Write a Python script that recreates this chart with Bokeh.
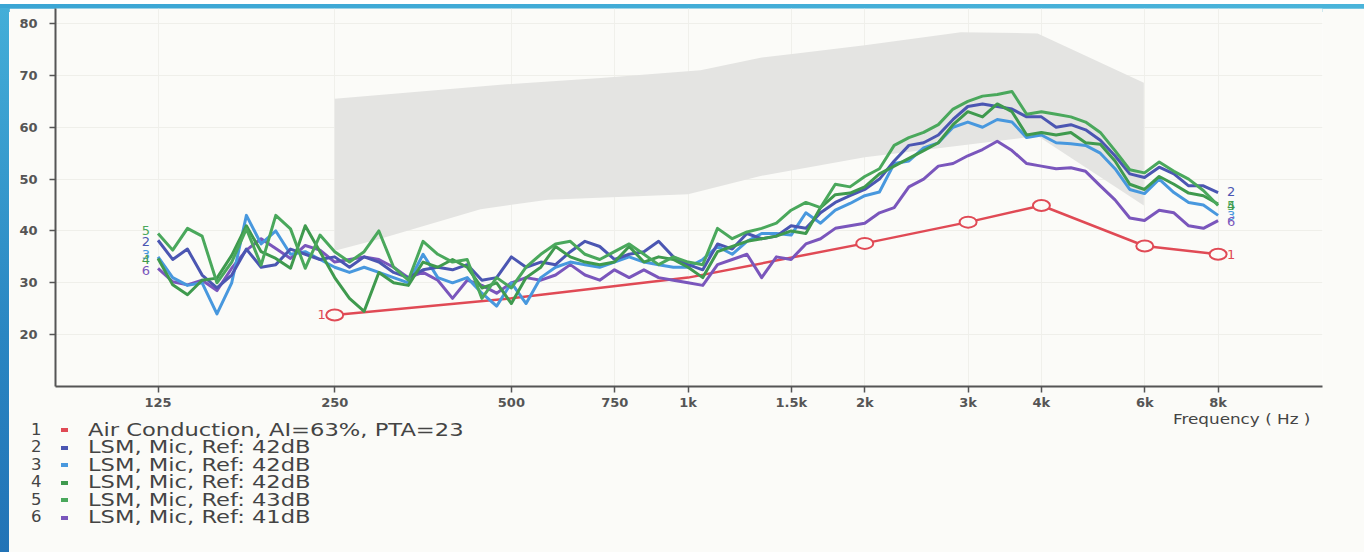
from bokeh.plotting import figure
from bokeh.models import Range1d, FixedTicker, Label, Div
from bokeh.layouts import column, row
from bokeh.embed import file_html
from bokeh.resources import INLINE

# ---------------- data ----------------
FREQ = [125, 132.4, 140.3, 148.6, 157.5, 166.9, 176.8, 187.3, 198.4, 210.2, 222.7, 236.0,
        250, 264.9, 280.6, 297.3, 315.0, 333.7, 353.6, 374.6, 396.9, 420.4, 445.4, 471.9,
        500, 529.7, 561.2, 594.6, 630.0, 667.4, 707.1, 749.2, 793.7, 840.9, 890.9, 943.9,
        1000, 1059.5, 1122.5, 1189.2, 1259.9, 1334.8, 1414.2, 1498.3, 1587.4, 1681.8, 1781.8, 1887.7,
        2000, 2118.9, 2244.9, 2378.4, 2519.8, 2669.6, 2828.4, 2996.6, 3174.8, 3363.6, 3563.6, 3775.5,
        4000, 4237.8, 4489.8, 4756.8, 5039.7, 5339.2, 5656.9, 5993.2, 6349.6, 6727.2, 7127.2, 7551.0,
        8000]

LSM2 = [38.2, 34.5, 36.5, 31.5, 29, 31.5, 36.5, 33, 33.5, 36.5, 35.5, 34.5, 35,
        33, 35, 34, 32, 31, 32.5,
        33, 32.5, 33.5, 30.5, 31, 35, 33, 34, 33.5, 36, 38, 37, 34.5, 35.5, 36, 38, 35, 33.5,
        32.5, 37.5, 36.5, 39.5, 38.5, 39, 41, 40.5, 43.5, 45.5, 46.8, 48, 50, 53.5, 56.5, 57, 58.5, 61.5,
        64, 64.5, 64, 63.5, 62, 62, 60, 60.5, 59.5, 57.5, 54.5, 51, 50.3, 52.3, 51, 48.7, 48.7, 47.4]

LSM3 = [35, 31, 29.5, 30, 24, 30, 43, 37.5, 40, 35.5, 36, 34.5, 33,
        32, 33, 32, 31, 30, 35.5,
        31, 30, 31, 28, 25.5, 30, 26, 31, 33, 34, 33.5, 33, 34, 35, 34, 33.5, 33, 33,
        34.5, 37, 35.5, 38, 39.5, 39.5, 39.2, 43.5, 41.5, 44, 45.3, 46.8, 47.5, 53, 53.5, 56, 57, 60,
        61, 60, 61.5, 61, 58, 58.5, 57, 56.8, 56.5, 55, 52, 48, 47.2, 50, 47.4, 45.5, 45, 43]

LSM4 = [34.7, 29.6, 27.7, 30.5, 30.9, 35.3, 41, 36, 34.7, 32.8, 41, 36, 31,
        27, 24.5, 32, 30, 29.5, 34,
        33, 34.5, 33, 29, 30, 26, 31, 33, 37, 35, 34, 33.5, 34, 37, 34, 35, 34.5, 33,
        31, 36, 37, 38, 38.5, 39, 40, 39.5, 44.5, 47, 47.3, 48.5, 51, 52.5, 54, 55.5, 57, 60.5,
        63, 62, 64.5, 63, 58.5, 59, 58.5, 59, 57, 56.7, 53.5, 49, 48, 50.5, 49, 47.3, 46.8, 45.2]

LSM5 = [39.5, 36.3, 40.5, 39, 30, 34, 40.4, 33.4, 43, 40.4, 32.8, 39.2, 36,
        34, 36, 40, 33, 30.5, 38,
        35.5, 34, 34.5, 27, 31, 29, 33, 35.5, 37.5, 38, 35.5, 34.5, 36, 37.5, 35.5, 33.5, 35, 34,
        33.5, 40.5, 38.5, 39.8, 40.5, 41.5, 44, 45.5, 44.5, 49, 48.5, 50.5, 52, 56.5, 58, 59, 60.5, 63.5,
        65, 66, 66.3, 66.9, 62.5, 63, 62.5, 62, 61, 59, 55.5, 51.8, 51.2, 53.3, 51.5, 50, 47.8, 44.9]

LSM6 = [32.8, 30.2, 29.6, 30.5, 28.5, 32.8, 36.3, 38.5, 36.6, 34.7, 37.2, 36.3, 34,
        34.5, 35, 34.5, 33, 31, 32,
        30.5, 27, 30.5, 29.5, 28, 30, 31, 30.5, 31.5, 33.5, 31.5, 30.5, 32.5, 31, 32.5, 31, 30.5, 30,
        29.5, 33.5, 34.5, 35.5, 31, 35, 34.5, 37.5, 38.5, 40.5, 41, 41.5, 43.5, 44.5, 48.5, 50, 52.5, 53,
        54.5, 55.7, 57.3, 55.5, 53, 52.5, 52, 52.2, 51.5, 48.7, 46, 42.5, 42, 44, 43.5, 41, 40.5, 42]

AC_FREQ = [250, 500, 1000, 2000, 3000, 4000, 6000, 8000]
AC_DB = [23.8, 27, 31, 37.6, 41.7, 44.9, 37.1, 35.5]

BAND_HI_F = [250, 479, 710, 1050, 1329, 1555, 2000, 2916, 3941, 5978]
BAND_HI = [65.5, 68.2, 69.5, 71.0, 73.4, 74.3, 75.8, 78.3, 78.1, 68.6]
BAND_LO_F = [5978, 3941, 2000, 1329, 1000, 577, 443, 299, 250]
BAND_LO = [44.9, 58.3, 54.2, 50.6, 47.1, 46.0, 44.2, 38.5, 36.2]

XTICKS = [125, 250, 500, 750, 1000, 1500, 2000, 3000, 4000, 6000, 8000]
XTICK_LABELS = ["125", "250", "500", "750", "1k", "1.5k", "2k", "3k", "4k", "6k", "8k"]
YTICKS = [20, 30, 40, 50, 60, 70, 80]
X_CAPTION = "Frequency ( Hz )"

LEGEND_NUMS = ["1", "2", "3", "4", "5", "6"]
LEGEND_TEXTS = ["Air Conduction, AI=63%, PTA=23",
                "LSM, Mic, Ref: 42dB",
                "LSM, Mic, Ref: 42dB",
                "LSM, Mic, Ref: 42dB",
                "LSM, Mic, Ref: 43dB",
                "LSM, Mic, Ref: 41dB"]

# ---------------- style ----------------
BG = "#fbfbf8"
RED = "#e04a55"
C2 = "#4b56b2"
C3 = "#4898de"
C4 = "#3f9a4e"
C5 = "#4aa85c"
C6 = "#7a56bc"
COLORS = [RED, C2, C3, C4, C5, C6]
AXC = "#555555"
FONT = "DejaVu Sans"

PAGE_W, PAGE_H = 1364, 552
TOP_BAR, LEFT_BAR = 8, 9
W = PAGE_W - LEFT_BAR          # 1355
FIG_H = 404
DIV_H = PAGE_H - TOP_BAR - FIG_H   # 140

p = figure(width=W, height=FIG_H, x_axis_type="log",
           x_range=Range1d(83.6, 12050), y_range=Range1d(10, 82.9),
           output_backend="svg", toolbar_location=None,
           min_border_left=46, min_border_right=42, min_border_top=0, min_border_bottom=23,
           background_fill_color=BG, border_fill_color=BG, outline_line_color=None, margin=0)

# axes
for ax in (p.xaxis, p.yaxis):
    ax.axis_line_color = AXC
    ax.axis_line_width = 2
    ax.major_tick_line_color = AXC
    ax.major_tick_line_width = 1.5
    ax.major_tick_in = 0
    ax.major_tick_out = 6
    ax.minor_tick_line_color = None
    ax.major_label_text_font = FONT
    ax.major_label_text_font_style = "bold"
    ax.major_label_text_font_size = "13px"
    ax.major_label_text_color = "#555555"

p.xaxis.ticker = FixedTicker(ticks=XTICKS)
p.xaxis.major_label_overrides = dict(zip(XTICKS, XTICK_LABELS))
p.xaxis.major_label_standoff = 2
p.yaxis.ticker = FixedTicker(ticks=YTICKS)
p.yaxis.major_label_standoff = 12

p.xgrid.ticker = FixedTicker(ticks=XTICKS)
p.ygrid.ticker = FixedTicker(ticks=YTICKS)
p.xgrid.grid_line_color = "#f0f0eb"
p.ygrid.grid_line_color = "#efefea"

# grey target band
p.patch(BAND_HI_F + BAND_LO_F, BAND_HI + BAND_LO, fill_color="#e4e4e2", line_color=None)

# air conduction
p.line(AC_FREQ, AC_DB, line_color=RED, line_width=2.5)

# LSM curves
series = [(LSM6, C6), (LSM3, C3), (LSM2, C2), (LSM4, C4), (LSM5, C5)]
for ys, c in series:
    p.line(FREQ, ys, line_color=c, line_width=3, line_join="round")

p.ellipse(AC_FREQ[3:], AC_DB[3:], width=17, height=11, width_units="screen", height_units="screen",
          fill_color=BG, line_color=RED, line_width=2)
p.ellipse(AC_FREQ[:1], AC_DB[:1], width=17, height=11, width_units="screen", height_units="screen",
          fill_color=BG, line_color=RED, line_width=2)

# curve end labels
def lab(x, y, t, c, dx, align):
    p.add_layout(Label(x=x, y=y, text=t, text_color=c, text_font=FONT, text_font_size="13px",
                       x_offset=dx, text_align=align, text_baseline="middle"))

lab(AC_FREQ[0], AC_DB[0], "1", RED, -9, "right")
lab(AC_FREQ[-1], AC_DB[-1], "1", RED, 9, "left")
starts = [(LSM5, C5, "5", 0.6), (LSM2, C2, "2", -0.3), (LSM3, C3, "3", 0.5), (LSM4, C4, "4", -0.2), (LSM6, C6, "6", -0.4)]
for ys, c, t, dy in starts:
    lab(FREQ[0], ys[0] + dy, t, c, -8, "right")
ends = [(LSM2, C2, "2", 0.2), (LSM3, C3, "3", -0.1), (LSM5, C5, "5", 0.0), (LSM4, C4, "4", -0.3), (LSM6, C6, "6", -0.2)]
for ys, c, t, dy in ends:
    lab(FREQ[-1], ys[-1] + dy, t, c, 9, "left")

# ---------------- caption + legend block (HTML text under the axis) ----------------
def span(left, top, size, color, txt, sx=1.0):
    return ('<span style="position:absolute;left:%spx;top:%spx;font-size:%spx;line-height:%spx;'
            'color:%s;white-space:nowrap;transform:scaleX(%s);transform-origin:0 50%%">%s</span>'
            % (left, top, size, size, color, sx, txt))

parts = [span(1164, 0, 14, "#444444", X_CAPTION, 1.2)]
for i, (n, t, c) in enumerate(zip(LEGEND_NUMS, LEGEND_TEXTS, COLORS)):
    cy = 18 + 17.5 * i
    parts.append(span(22, cy - 7.5, 15, "#444444", n, 1.1))
    parts.append('<span style="position:absolute;left:52px;top:%spx;width:7px;height:4px;background:%s"></span>'
                 % (cy - 2, c))
    parts.append(span(79, cy - 8.5, 17, "#444444", t, 1.33))

html = ('<div style="position:relative;width:%dpx;height:%dpx;background:%s;'
        'font-family:\'DejaVu Sans\';overflow:hidden">%s</div>' % (W, DIV_H, BG, "".join(parts)))
legend_div = Div(text=html, width=W, height=DIV_H, margin=0)

# slide frame (blue strips at top and left, as in the photographed slide)
top_bar = Div(text='<div style="width:%dpx;height:%dpx;background:linear-gradient(to right,#3aa5d4,#4ab4da)"></div>'
              % (PAGE_W, TOP_BAR), width=PAGE_W, height=TOP_BAR, margin=0)
left_bar = Div(text='<div style="width:%dpx;height:%dpx;background:linear-gradient(#44aed8,#2a86c2 60%%,#2273b6)"></div>'
               % (LEFT_BAR, PAGE_H - TOP_BAR), width=LEFT_BAR, height=PAGE_H - TOP_BAR, margin=0)

page = column(top_bar, row(left_bar, column(p, legend_div, spacing=0), spacing=0), spacing=0)

open("out.html", "w").write(file_html(page, INLINE))
